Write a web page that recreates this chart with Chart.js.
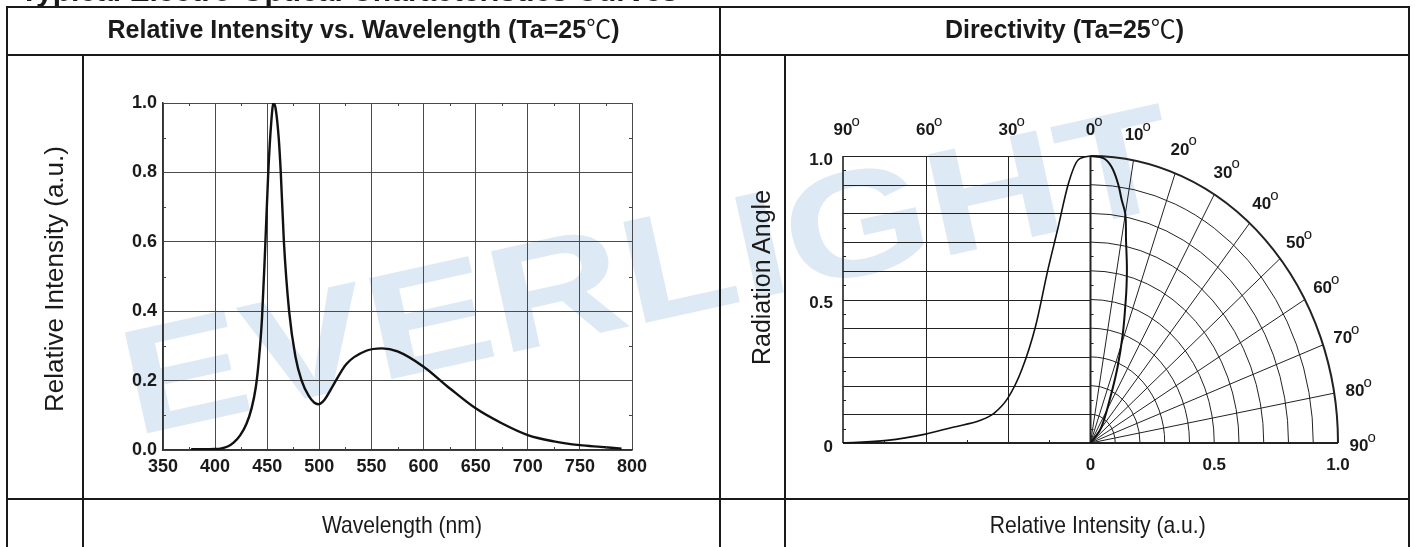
<!DOCTYPE html>
<html>
<head>
<meta charset="utf-8">
<script src="https://cdn.jsdelivr.net/npm/chart.js@4/dist/chart.umd.min.js"></script>
<style>
html,body{margin:0;padding:0;background:#fff;width:1415px;height:547px;overflow:hidden;}
body{position:relative;font-family:"Liberation Sans",Arial,sans-serif;color:#1a1a1a;}
.ln{position:absolute;background:#1a1a1a;z-index:5;}
.t{position:absolute;white-space:nowrap;z-index:6;}
.deg{font-family:"Noto Sans CJK SC",sans-serif;font-weight:normal;}
canvas{position:absolute;left:0;top:0;z-index:2;}
#wm{position:absolute;left:135px;top:309px;font:bold 150px/150px "Liberation Sans",Arial,sans-serif;color:#dde9f4;transform-origin:0 127px;transform:rotate(-12.5deg) scaleX(1.25);white-space:nowrap;z-index:1;}
.bt{display:inline-block;transform:scaleX(0.88);}
</style>
</head>
<body>
<div id="wm">EVERLIGHT</div>

<div class="t" style="left:20px;top:-24px;font:bold 30px/30px 'Liberation Sans',Arial,sans-serif;">Typical Electro-Optical Characteristics Curves</div>

<div class="t" style="left:7px;width:713px;text-align:center;top:15px;font:bold 25px/25px 'Liberation Sans',Arial,sans-serif;">Relative Intensity vs. Wavelength (Ta=25<span class="deg">℃</span>)</div>
<div class="t" style="left:720px;width:689px;text-align:center;top:15px;font:bold 25px/25px 'Liberation Sans',Arial,sans-serif;">Directivity (Ta=25<span class="deg">℃</span>)</div>

<div class="t" style="left:-146px;width:400px;text-align:center;top:266px;font:26px/26px 'Liberation Sans',Arial,sans-serif;transform:rotate(-90deg);">Relative Intensity (a.u.)</div>
<div class="t" style="left:561px;width:400px;text-align:center;top:265px;font:25px/25px 'Liberation Sans',Arial,sans-serif;transform:rotate(-90deg);">Radiation Angle</div>

<div class="t" style="left:84px;width:636px;text-align:center;top:513px;font:24px/24px 'Liberation Sans',Arial,sans-serif;"><span class="bt">Wavelength (nm)</span></div>
<div class="t" style="left:786px;width:623px;text-align:center;top:513px;font:24px/24px 'Liberation Sans',Arial,sans-serif;"><span class="bt">Relative Intensity (a.u.)</span></div>

<div class="ln" style="left:6px;top:6px;width:1404px;height:2px;"></div>
<div class="ln" style="left:6px;top:54px;width:1404px;height:2px;"></div>
<div class="ln" style="left:6px;top:498px;width:1404px;height:2px;"></div>
<div class="ln" style="left:6px;top:6px;width:2px;height:541px;"></div>
<div class="ln" style="left:1408px;top:6px;width:2px;height:541px;"></div>
<div class="ln" style="left:82px;top:55px;width:2px;height:492px;"></div>
<div class="ln" style="left:719px;top:6px;width:2px;height:541px;"></div>
<div class="ln" style="left:784px;top:55px;width:2px;height:492px;"></div>

<canvas id="c1" width="1415" height="547"></canvas>
<canvas id="c2" width="1415" height="547"></canvas>

<script>
// ---------- Spectrum data ----------
const wavelengthNm = [377, 390, 400, 405, 412, 418, 424, 430, 435, 439, 442, 445, 448, 451, 454, 456, 458, 461, 463, 466, 471, 477, 483, 490, 495, 499, 505, 513, 526, 545, 560, 575, 600, 625, 650, 675, 700, 725, 750, 770, 790];
const relIntensity = [0.002, 0.002, 0.003, 0.004, 0.01, 0.022, 0.042, 0.075, 0.12, 0.18, 0.26, 0.38, 0.58, 0.8, 0.95, 1.0, 0.985, 0.9, 0.8, 0.6, 0.4, 0.27, 0.2, 0.155, 0.137, 0.132, 0.145, 0.185, 0.248, 0.286, 0.293, 0.284, 0.24, 0.178, 0.12, 0.077, 0.043, 0.025, 0.014, 0.009, 0.004];
const wlTicks = [350, 400, 450, 500, 550, 600, 650, 700, 750, 800];
const intensityTicks = [0, 0.2, 0.4, 0.6, 0.8, 1.0];
const wlMinorTicks = [375, 425, 475, 525, 575, 625, 675, 725, 775];
const intensityMinorTicks = [0.1, 0.3, 0.5, 0.7, 0.9];

// ---------- Directivity data ----------
// Left (cartesian) representation: angle (deg) vs relative intensity
const dirAngleLeft = [90, 74, 60, 50, 40, 35, 30, 25, 20, 15.5, 12, 8, 4.5, 0];
const dirIntensityLeft = [0, 0.009, 0.031, 0.055, 0.079, 0.104, 0.157, 0.255, 0.406, 0.603, 0.742, 0.905, 0.986, 1.0];
// Right (polar) representation: angle (deg) vs relative intensity
const polarAngle = [0, 3, 5, 7, 8.5, 10, 11.5, 13.5, 15, 16, 19, 22.5, 27.5, 39, 42.5, 45];
const polarIntensity = [1.0, 0.994, 0.967, 0.911, 0.855, 0.81, 0.72, 0.63, 0.562, 0.516, 0.40, 0.285, 0.165, 0.068, 0.024, 0];
const topAngleLabels = [90, 60, 30, 0];
const polarAngleLabels = [10, 20, 30, 40, 50, 60, 70, 80, 90];
const polarRings = [0.1, 0.2, 0.3, 0.4, 0.5, 0.6, 0.7, 0.8, 0.9, 1.0];
const polarSpokes = [10, 20, 30, 40, 50, 60, 70, 80];
const leftAngleGrid = [60, 30];
const leftAngleMinor = [75, 45, 15];
const dirYTicks = [0, 0.5, 1.0];
const dirXTicks = [0, 0.5, 1.0];

const FONT = '"Liberation Sans", Arial, Helvetica, sans-serif';
Chart.defaults.font.family = FONT;
Chart.defaults.color = '#1a1a1a';

function seg(ctx, x1, y1, x2, y2) { ctx.beginPath(); ctx.moveTo(x1, y1); ctx.lineTo(x2, y2); ctx.stroke(); }

// ---------- Chart 1: spectrum ----------
const minorTicks1 = {
  id: 'minorTicks1',
  afterDatasetsDraw(chart) {
    const { ctx, scales: { x, y }, chartArea: a } = chart;
    ctx.save();
    ctx.strokeStyle = '#444'; ctx.lineWidth = 1;
    wlMinorTicks.forEach(v => {
      const px = Math.round(x.getPixelForValue(v)) + 0.5;
      seg(ctx, px, a.top, px, a.top + 3);
      seg(ctx, px, a.bottom, px, a.bottom - 3);
    });
    intensityMinorTicks.forEach(v => {
      const py = Math.round(y.getPixelForValue(v)) + 0.5;
      seg(ctx, a.left, py, a.left + 3, py);
      seg(ctx, a.right, py, a.right - 3, py);
    });
    ctx.restore();
  }
};

new Chart(document.getElementById('c1'), {
  type: 'line',
  data: {
    datasets: [{
      data: wavelengthNm.map((x, i) => ({ x, y: relIntensity[i] })),
      borderColor: '#111', borderWidth: 2.4, pointRadius: 0,
      cubicInterpolationMode: 'monotone', fill: false
    }]
  },
  options: {
    responsive: false, animation: false, events: [],
    layout: { padding: { left: 113, right: 783, top: 103, bottom: 57 } },
    plugins: { legend: { display: false }, tooltip: { enabled: false } },
    scales: {
      x: {
        type: 'linear', min: 350, max: 800,
        afterBuildTicks: ax => { ax.ticks = wlTicks.map(v => ({ value: v })); },
        afterFit: s => { s.height = 40; },
        ticks: { font: { size: 18, weight: 'bold' }, color: '#1a1a1a', padding: 6, maxRotation: 0, autoSkip: false, callback: v => String(v) },
        grid: { color: '#4a4a4a', lineWidth: 1, drawTicks: false },
        border: { display: true, color: '#333', width: 1.5 }
      },
      y: {
        type: 'linear', min: 0, max: 1,
        afterBuildTicks: ax => { ax.ticks = intensityTicks.map(v => ({ value: v })); },
        afterFit: s => { s.width = 50; },
        ticks: { font: { size: 18, weight: 'bold' }, color: '#1a1a1a', padding: 6, autoSkip: false, callback: v => Number(v).toFixed(1) },
        grid: { color: '#4a4a4a', lineWidth: 1, drawTicks: false },
        border: { display: true, color: '#333', width: 1.5 }
      }
    }
  },
  plugins: [minorTicks1]
});

// ---------- Chart 2: directivity ----------
function degLabel(ctx, num, px, py, centerWhole) {
  const s = String(num);
  ctx.font = 'bold 17px ' + FONT;
  const w = ctx.measureText(s).width;
  ctx.font = '15px ' + FONT;
  const wo = ctx.measureText('o').width;
  const left = centerWhole ? px - (w + wo - 1) / 2 : px - w / 2;
  ctx.fillStyle = '#1a1a1a';
  ctx.textAlign = 'left';
  ctx.textBaseline = 'middle';
  ctx.font = 'bold 17px ' + FONT;
  ctx.fillText(s, left, py);
  ctx.textBaseline = 'alphabetic';
  ctx.font = '15px ' + FONT;
  ctx.fillText('o', left + w - 1, py - 5);
}

const polarGrid = {
  id: 'polarGrid',
  beforeDatasetsDraw(chart) {
    const { ctx, scales: { x, y } } = chart;
    const cx = x.getPixelForValue(0), cy = y.getPixelForValue(0);
    const rx = x.getPixelForValue(1) - cx, ry = cy - y.getPixelForValue(1);
    const xl = x.getPixelForValue(-1);
    ctx.save();
    ctx.strokeStyle = '#222'; ctx.lineWidth = 1;
    polarRings.forEach(v => {
      const py = Math.round(y.getPixelForValue(v)) + 0.5;
      seg(ctx, xl, py, cx, py);
    });
    leftAngleGrid.forEach(a => {
      const px = Math.round(x.getPixelForValue(-a / 90)) + 0.5;
      seg(ctx, px, cy, px, y.getPixelForValue(1));
    });
    polarRings.forEach(r => {
      ctx.lineWidth = r === 1 ? 2 : 1;
      ctx.beginPath();
      ctx.ellipse(cx, cy, rx * r, ry * r, 0, -Math.PI / 2, 0);
      ctx.stroke();
    });
    ctx.lineWidth = 1;
    polarSpokes.forEach(a => {
      const t = a * Math.PI / 180;
      seg(ctx, cx, cy, cx + rx * Math.sin(t), cy - ry * Math.cos(t));
    });
    ctx.lineWidth = 1.6;
    seg(ctx, xl, cy, xl, y.getPixelForValue(1));
    ctx.lineWidth = 2;
    seg(ctx, xl, cy, cx + rx, cy);
    seg(ctx, cx, cy, cx, y.getPixelForValue(1));
    ctx.lineWidth = 1;
    for (let k = 0; k < 10; k++) {
      const py = Math.round(y.getPixelForValue(0.05 + k * 0.1)) + 0.5;
      seg(ctx, xl, py, xl + 3, py);
      seg(ctx, cx, py, cx + 3, py);
    }
    leftAngleMinor.forEach(a => {
      const px = Math.round(x.getPixelForValue(-a / 90)) + 0.5;
      seg(ctx, px, cy, px, cy - 3);
    });
    ctx.restore();
  },
  afterDraw(chart) {
    const { ctx, scales: { x, y } } = chart;
    const cx = x.getPixelForValue(0), cy = y.getPixelForValue(0);
    const rx = x.getPixelForValue(1) - cx, ry = cy - y.getPixelForValue(1);
    ctx.save();
    topAngleLabels.forEach(a => {
      degLabel(ctx, a, x.getPixelForValue(-a / 90), y.getPixelForValue(1.1) + 3.5, false);
    });
    polarAngleLabels.forEach(a => {
      const t = a * Math.PI / 180;
      degLabel(ctx, a, cx + 1.1 * rx * Math.sin(t), cy - 1.1 * ry * Math.cos(t) + 3.5, true);
    });
    ctx.restore();
  }
};

new Chart(document.getElementById('c2'), {
  type: 'scatter',
  data: {
    datasets: [
      {
        data: dirAngleLeft.map((a, i) => ({ x: -a / 90, y: dirIntensityLeft[i] })),
        showLine: true, borderColor: '#111', borderWidth: 1.6, pointRadius: 0,
        cubicInterpolationMode: 'monotone', clip: 6
      },
      {
        data: polarAngle.map((a, i) => ({
          x: polarIntensity[i] * Math.sin(a * Math.PI / 180),
          y: polarIntensity[i] * Math.cos(a * Math.PI / 180)
        })),
        showLine: true, borderColor: '#111', borderWidth: 2, pointRadius: 0,
        tension: 0.4, clip: 6
      }
    ]
  },
  options: {
    responsive: false, animation: false, events: [],
    layout: { padding: { left: 803, right: 77, top: 156, bottom: 74 } },
    plugins: { legend: { display: false }, tooltip: { enabled: false } },
    scales: {
      x: {
        type: 'linear', min: -1, max: 1,
        afterBuildTicks: ax => { ax.ticks = dirXTicks.map(v => ({ value: v })); },
        afterFit: s => { s.height = 30; },
        ticks: { font: { size: 17, weight: 'bold' }, color: '#1a1a1a', padding: 12, maxRotation: 0, autoSkip: false, callback: v => (v === 0 ? '0' : Number(v).toFixed(1)) },
        grid: { display: false, drawTicks: false },
        border: { display: false }
      },
      y: {
        type: 'linear', min: 0, max: 1,
        afterBuildTicks: ax => { ax.ticks = dirYTicks.map(v => ({ value: v })); },
        afterFit: s => { s.width = 40; },
        ticks: { font: { size: 17, weight: 'bold' }, color: '#1a1a1a', padding: 10, labelOffset: 4, autoSkip: false, callback: v => (v === 0 ? '0' : Number(v).toFixed(1)) },
        grid: { display: false, drawTicks: false },
        border: { display: false }
      }
    }
  },
  plugins: [polarGrid]
});
</script>
</body>
</html>
